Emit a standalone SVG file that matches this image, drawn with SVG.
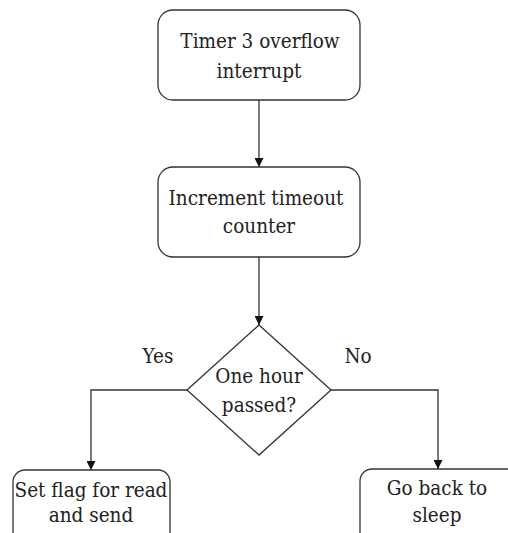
<svg xmlns="http://www.w3.org/2000/svg" width="508" height="533" viewBox="0 0 508 533">
  <style>
    .box { fill: #ffffff; stroke: #333333; stroke-width: 1.3; }
    .line { fill: none; stroke: #333333; stroke-width: 1.3; }
    .lbl { font-family: 'DejaVu Serif', serif; font-stretch: condensed; font-size: 20.5px; fill: #222222; text-anchor: middle; }
  </style>
  <defs>
    <marker id="arrow" viewBox="0 0 10 10" refX="10" refY="5" markerWidth="9" markerHeight="9" markerUnits="userSpaceOnUse" orient="auto">
      <path d="M0,0 L10,5 L0,10 Z" fill="#111111"/>
    </marker>
  </defs>
  <rect width="508" height="533" fill="#ffffff"/>

  <g id="connectors">
    <line class="line" x1="259" y1="100" x2="259" y2="167" marker-end="url(#arrow)"/>
    <line class="line" x1="259" y1="257" x2="259" y2="325" marker-end="url(#arrow)"/>
    <polyline class="line" points="187,390 91,390 91,470" marker-end="url(#arrow)"/>
    <polyline class="line" points="331,390 438,390 438,469" marker-end="url(#arrow)"/>
    <text class="lbl" x="158" y="363">Yes</text>
    <text class="lbl" x="358" y="363">No</text>
  </g>

  <g id="timer-interrupt">
    <rect class="box" x="158" y="10" width="202" height="90" rx="15"/>
    <text class="lbl" x="260" y="48">Timer 3 overflow</text>
    <text class="lbl" x="259" y="78">interrupt</text>
  </g>

  <g id="increment-counter">
    <rect class="box" x="158" y="167" width="202" height="90" rx="15"/>
    <text class="lbl" x="256" y="205">Increment timeout</text>
    <text class="lbl" x="259" y="233">counter</text>
  </g>

  <g id="hour-check">
    <polygon class="box" points="259,325 331,390 259,455 187,390"/>
    <text class="lbl" x="259" y="383">One hour</text>
    <text class="lbl" x="259" y="412">passed?</text>
  </g>

  <g id="set-flag">
    <rect class="box" x="13" y="470" width="157" height="90" rx="12"/>
    <text class="lbl" x="91" y="497">Set flag for read</text>
    <text class="lbl" x="91" y="522">and send</text>
  </g>

  <g id="go-sleep">
    <rect class="box" x="360" y="469" width="160" height="90" rx="12"/>
    <text class="lbl" x="437" y="495">Go back to</text>
    <text class="lbl" x="437" y="522">sleep</text>
  </g>
</svg>
